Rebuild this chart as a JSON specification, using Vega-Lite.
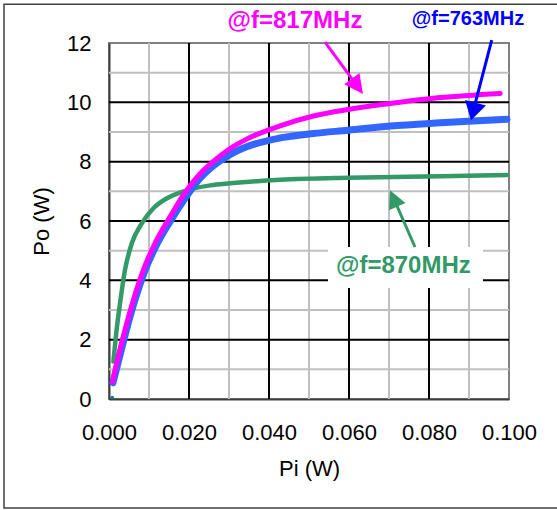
{
  "$schema": "https://vega.github.io/schema/vega-lite/v6.json",
  "width": 400,
  "height": 356,
  "autosize": {"type": "none"},
  "padding": {"left": 109, "top": 43, "right": 48, "bottom": 111},
  "background": "white",
  "config": {
    "view": {"stroke": "#808080", "strokeWidth": 2},
    "font": "Liberation Sans",
    "axis": {"grid": false, "ticks": false, "tickSize": 0, "labelFontSize": 22, "labelColor": "#000000", "labelFlush": false, "labelOverlap": false, "labelBound": false,
      "labelFont": "Liberation Sans", "titleFont": "Liberation Sans", "titleFontSize": 22, "titleFontWeight": "normal", "titleColor": "#000000",
      "domainColor": "#404040", "domainWidth": 2},
    "axisX": {"labelPadding": 23, "titlePadding": 15},
    "axisY": {"labelPadding": 18, "titlePadding": 13}
  },
  "datasets": {
    "curves": [
      {"f": "870MHz", "pi": 0.0011, "po": 1.26},
      {"f": "870MHz", "pi": 0.0019, "po": 2.33},
      {"f": "870MHz", "pi": 0.00275, "po": 3.22},
      {"f": "870MHz", "pi": 0.004, "po": 4.35},
      {"f": "870MHz", "pi": 0.0057, "po": 5.25},
      {"f": "870MHz", "pi": 0.0082, "po": 5.92},
      {"f": "870MHz", "pi": 0.0111, "po": 6.43},
      {"f": "870MHz", "pi": 0.0144, "po": 6.76},
      {"f": "870MHz", "pi": 0.0186, "po": 7.0},
      {"f": "870MHz", "pi": 0.0253, "po": 7.2},
      {"f": "870MHz", "pi": 0.0303, "po": 7.27},
      {"f": "870MHz", "pi": 0.0428, "po": 7.39},
      {"f": "870MHz", "pi": 0.0598, "po": 7.46},
      {"f": "870MHz", "pi": 0.0786, "po": 7.5},
      {"f": "870MHz", "pi": 0.0995, "po": 7.55},
      {"f": "763MHz", "pi": 0.001, "po": 0.55},
      {"f": "763MHz", "pi": 0.0026, "po": 1.4},
      {"f": "763MHz", "pi": 0.0043, "po": 2.3},
      {"f": "763MHz", "pi": 0.0064, "po": 3.3},
      {"f": "763MHz", "pi": 0.0089, "po": 4.3},
      {"f": "763MHz", "pi": 0.0119, "po": 5.2},
      {"f": "763MHz", "pi": 0.0158, "po": 6.1},
      {"f": "763MHz", "pi": 0.0192, "po": 6.8},
      {"f": "763MHz", "pi": 0.0225, "po": 7.4},
      {"f": "763MHz", "pi": 0.026, "po": 7.85},
      {"f": "763MHz", "pi": 0.03, "po": 8.22},
      {"f": "763MHz", "pi": 0.0344, "po": 8.5},
      {"f": "763MHz", "pi": 0.0428, "po": 8.8},
      {"f": "763MHz", "pi": 0.0511, "po": 8.95},
      {"f": "763MHz", "pi": 0.0598, "po": 9.06},
      {"f": "763MHz", "pi": 0.0703, "po": 9.2},
      {"f": "763MHz", "pi": 0.0828, "po": 9.31},
      {"f": "763MHz", "pi": 0.0995, "po": 9.43},
      {"f": "817MHz", "pi": 0.0009, "po": 0.58},
      {"f": "817MHz", "pi": 0.0023, "po": 1.43},
      {"f": "817MHz", "pi": 0.004, "po": 2.33},
      {"f": "817MHz", "pi": 0.0061, "po": 3.34},
      {"f": "817MHz", "pi": 0.0086, "po": 4.35},
      {"f": "817MHz", "pi": 0.0115, "po": 5.25},
      {"f": "817MHz", "pi": 0.0153, "po": 6.15},
      {"f": "817MHz", "pi": 0.0186, "po": 6.88},
      {"f": "817MHz", "pi": 0.0228, "po": 7.6},
      {"f": "817MHz", "pi": 0.026, "po": 8.0},
      {"f": "817MHz", "pi": 0.03, "po": 8.42},
      {"f": "817MHz", "pi": 0.0344, "po": 8.76},
      {"f": "817MHz", "pi": 0.0428, "po": 9.21},
      {"f": "817MHz", "pi": 0.0511, "po": 9.54},
      {"f": "817MHz", "pi": 0.0598, "po": 9.76},
      {"f": "817MHz", "pi": 0.0703, "po": 9.96},
      {"f": "817MHz", "pi": 0.0828, "po": 10.16},
      {"f": "817MHz", "pi": 0.0978, "po": 10.3}
    ]
  },
  "layer": [
    {
      "data": {"values": [{"gx": 0.01}, {"gx": 0.03}, {"gx": 0.05}, {"gx": 0.07}, {"gx": 0.09}]},
      "mark": {"type": "rule", "color": "#c0c0c0", "strokeWidth": 2},
      "encoding": {"x": {"field": "gx", "type": "quantitative", "scale": {"domain": [0, 0.1], "nice": false, "zero": false},
        "axis": {"title": "Pi (W)", "values": [0, 0.02, 0.04, 0.06, 0.08, 0.1], "format": ".3f"}}}
    },
    {
      "data": {"values": [{"gy": 1}, {"gy": 3}, {"gy": 5}, {"gy": 7}, {"gy": 9}, {"gy": 11}]},
      "mark": {"type": "rule", "color": "#c0c0c0", "strokeWidth": 2},
      "encoding": {"y": {"field": "gy", "type": "quantitative", "scale": {"domain": [0, 12], "nice": false, "zero": false},
        "axis": {"title": "Po (W)", "values": [0, 2, 4, 6, 8, 10, 12]}}}
    },
    {
      "data": {"values": [{"gx": 0.02}, {"gx": 0.04}, {"gx": 0.06}, {"gx": 0.08}]},
      "mark": {"type": "rule", "color": "#000000", "strokeWidth": 2},
      "encoding": {"x": {"field": "gx", "type": "quantitative"}}
    },
    {
      "data": {"values": [{"gy": 2}, {"gy": 4}, {"gy": 6}, {"gy": 8}, {"gy": 10}]},
      "mark": {"type": "rule", "color": "#000000", "strokeWidth": 2},
      "encoding": {"y": {"field": "gy", "type": "quantitative"}}
    },
    {
      "data": {"name": "curves"},
      "transform": [{"filter": "datum.f === '870MHz'"}],
      "mark": {"type": "line", "color": "#339966", "strokeWidth": 4.5, "strokeCap": "round", "interpolate": "monotone"},
      "encoding": {
        "x": {"field": "pi", "type": "quantitative"},
        "y": {"field": "po", "type": "quantitative"}
      }
    },
    {
      "data": {"name": "curves"},
      "transform": [{"filter": "datum.f === '763MHz'"}],
      "mark": {"type": "line", "color": "#3366FF", "strokeWidth": 7, "strokeCap": "round", "interpolate": "monotone"},
      "encoding": {
        "x": {"field": "pi", "type": "quantitative"},
        "y": {"field": "po", "type": "quantitative"}
      }
    },
    {
      "data": {"name": "curves"},
      "transform": [{"filter": "datum.f === '817MHz'"}],
      "mark": {"type": "line", "color": "#FF00FF", "strokeWidth": 5, "strokeCap": "round", "interpolate": "monotone"},
      "encoding": {
        "x": {"field": "pi", "type": "quantitative"},
        "y": {"field": "po", "type": "quantitative"}
      }
    },
    {
      "data": {"values": [{"pi": 0.0008, "po": 0.05}]},
      "mark": {"type": "point", "filled": true, "color": "#008080", "size": 14, "opacity": 1},
      "encoding": {
        "x": {"field": "pi", "type": "quantitative"},
        "y": {"field": "po", "type": "quantitative"}
      }
    },
    {
      "data": {"values": [
        {"x": 0.02775, "x2": 0.066, "y": 12.03, "y2": 13.45},
        {"x": 0.0745, "x2": 0.107, "y": 12.1, "y2": 13.45},
        {"x": 0.05475, "x2": 0.0935, "y": 3.74, "y2": 5.12}
      ]},
      "mark": {"type": "rect", "color": "#ffffff", "opacity": 1},
      "encoding": {
        "x": {"field": "x", "type": "quantitative"},
        "x2": {"field": "x2"},
        "y": {"field": "y", "type": "quantitative"},
        "y2": {"field": "y2"}
      }
    },
    {
      "data": {"values": [{"x": 0.054, "y": 12.03, "x2": 0.06203, "y2": 10.553, "tx": 0.0635, "ty": 10.28}]},
      "layer": [
        {"mark": {"type": "rule", "color": "#FF00FF", "strokeWidth": 3},
         "encoding": {"x": {"field": "x", "type": "quantitative"}, "y": {"field": "y", "type": "quantitative"}, "x2": {"field": "x2"}, "y2": {"field": "y2"}}},
        {"mark": {"type": "point", "filled": true, "opacity": 1, "color": "#FF00FF", "shape": "M0,0 L0.5,1 L-0.5,1 Z", "size": 1444, "angle": 143.8},
         "encoding": {"x": {"field": "tx", "type": "quantitative"}, "y": {"field": "ty", "type": "quantitative"}}}
      ]
    },
    {
      "data": {"values": [{"x": 0.09568, "y": 12.1, "x2": 0.0911, "y2": 9.73, "tx": 0.0905, "ty": 9.4}]},
      "layer": [
        {"mark": {"type": "rule", "color": "#0000FF", "strokeWidth": 3},
         "encoding": {"x": {"field": "x", "type": "quantitative"}, "y": {"field": "y", "type": "quantitative"}, "x2": {"field": "x2"}, "y2": {"field": "y2"}}},
        {"mark": {"type": "point", "filled": true, "opacity": 1, "color": "#0000FF", "shape": "M0,0 L0.6,1 L-0.6,1 Z", "size": 1296, "angle": 194.5},
         "encoding": {"x": {"field": "tx", "type": "quantitative"}, "y": {"field": "ty", "type": "quantitative"}}}
      ]
    },
    {
      "data": {"values": [{"x": 0.0765, "y": 5.123, "x2": 0.07125, "y2": 6.734, "tx": 0.07025, "ty": 7.04}]},
      "layer": [
        {"mark": {"type": "rule", "color": "#339966", "strokeWidth": 3},
         "encoding": {"x": {"field": "x", "type": "quantitative"}, "y": {"field": "y", "type": "quantitative"}, "x2": {"field": "x2"}, "y2": {"field": "y2"}}},
        {"mark": {"type": "point", "filled": true, "opacity": 1, "color": "#339966", "shape": "M0,0 L0.5,1 L-0.5,1 Z", "size": 1296, "angle": 336.3},
         "encoding": {"x": {"field": "tx", "type": "quantitative"}, "y": {"field": "ty", "type": "quantitative"}}}
      ]
    },
    {
      "data": {"values": [{"x": 0.0465, "y": 12.74, "label": "@f=817MHz"}]},
      "mark": {"type": "text", "font": "Liberation Sans", "fontWeight": "bold", "fontSize": 24, "color": "#FF00FF", "align": "center", "baseline": "middle"},
      "encoding": {"x": {"field": "x", "type": "quantitative"}, "y": {"field": "y", "type": "quantitative"}, "text": {"field": "label"}}
    },
    {
      "data": {"values": [{"x": 0.08975, "y": 12.81, "label": "@f=763MHz"}]},
      "mark": {"type": "text", "font": "Liberation Sans", "fontWeight": "bold", "fontSize": 20, "color": "#0000FF", "align": "center", "baseline": "middle"},
      "encoding": {"x": {"field": "x", "type": "quantitative"}, "y": {"field": "y", "type": "quantitative"}, "text": {"field": "label"}}
    },
    {
      "data": {"values": [{"x": 0.0736, "y": 4.48, "label": "@f=870MHz"}]},
      "mark": {"type": "text", "font": "Liberation Sans", "fontWeight": "bold", "fontSize": 24, "color": "#339966", "align": "center", "baseline": "middle"},
      "encoding": {"x": {"field": "x", "type": "quantitative"}, "y": {"field": "y", "type": "quantitative"}, "text": {"field": "label"}}
    },
    {
      "data": {"values": [{"x": -0.02625, "x2": 0.13, "y": 13.31, "y2": -3.674}]},
      "mark": {"type": "rect", "fillOpacity": 0, "stroke": "#404040", "strokeWidth": 1.5},
      "encoding": {
        "x": {"field": "x", "type": "quantitative"},
        "x2": {"field": "x2"},
        "y": {"field": "y", "type": "quantitative"},
        "y2": {"field": "y2"}
      }
    }
  ]
}
